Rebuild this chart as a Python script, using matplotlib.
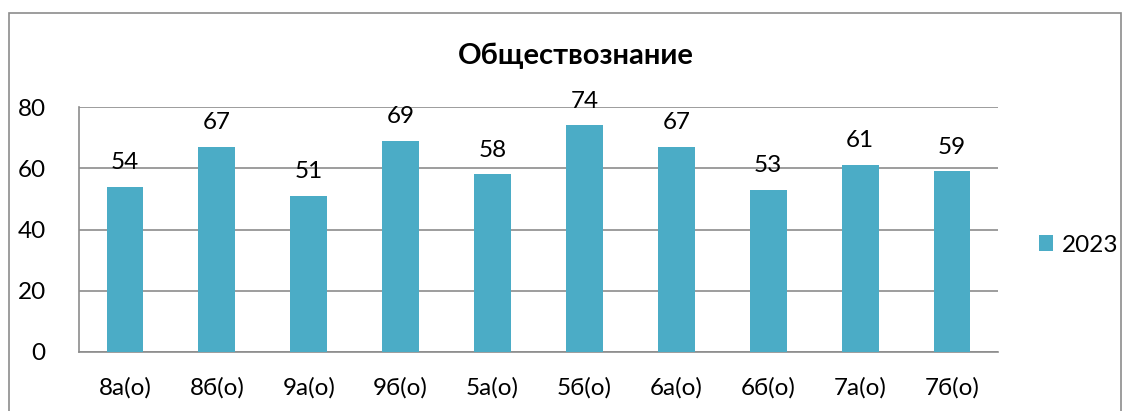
import matplotlib
matplotlib.use("Agg")
import matplotlib.pyplot as plt
from matplotlib.patches import Rectangle

categories = ["8а(о)", "8б(о)", "9а(о)", "9б(о)", "5а(о)", "5б(о)", "6а(о)", "6б(о)", "7а(о)", "7б(о)"]
values_2023 = [54, 67, 51, 69, 58, 74, 67, 53, 61, 59]
series_name = "2023"
title = "Обществознание"
yticks = [0, 20, 40, 60, 80]

plt.rcParams['font.family'] = ['Lato', 'DejaVu Sans']
W, H = 1131, 411
fig = plt.figure(figsize=(W / 100, H / 100), dpi=100)

# outer border
fig.patches.append(Rectangle((9 / W, -0.1), (1121 - 9) / W, 1 - 13 / H + 0.1,
                             transform=fig.transFigure, fill=False,
                             edgecolor="#8c8c8c", linewidth=1.2))

ax = fig.add_axes([79 / W, 1 - 352 / H, (998 - 79) / W, (352 - 107) / H])
color = "#4BACC6"
x = range(len(categories))
bars = ax.bar(x, values_2023, width=0.4, color=color, label=series_name, zorder=3)
for xi, v in zip(x, values_2023):
    ax.text(xi, v + 4.5, str(v), ha="center", va="bottom", fontsize=17.5, color="black")

ax.set_xlim(-0.5, len(categories) - 0.5)
ax.set_ylim(0, 80)
ax.set_yticks(yticks)
ax.set_xticks(list(x))
ax.set_xticklabels(categories)
ax.tick_params(axis="both", length=0, labelsize=17.5, colors="black")
ax.tick_params(axis="x", pad=18)
ax.tick_params(axis="y", pad=24)
ax.grid(axis="y", color="#8c8c8c", linewidth=1.2, zorder=0)
for s in ["top", "right"]:
    ax.spines[s].set_visible(False)
for s in ["left", "bottom"]:
    ax.spines[s].set_color("#8c8c8c")
    ax.spines[s].set_linewidth(1.2)

fig.text(576 / W, 1 - 56 / H, title, ha="center", va="center",
         fontsize=21, fontweight="bold")

leg = fig.legend(handles=[bars], labels=[series_name], loc="center left",
                 bbox_to_anchor=(1017 / W, 1 - 245 / H), frameon=False,
                 fontsize=17.5, handlelength=0.6, handleheight=0.6, handletextpad=0.35)

fig.savefig("out.png", dpi=100)
